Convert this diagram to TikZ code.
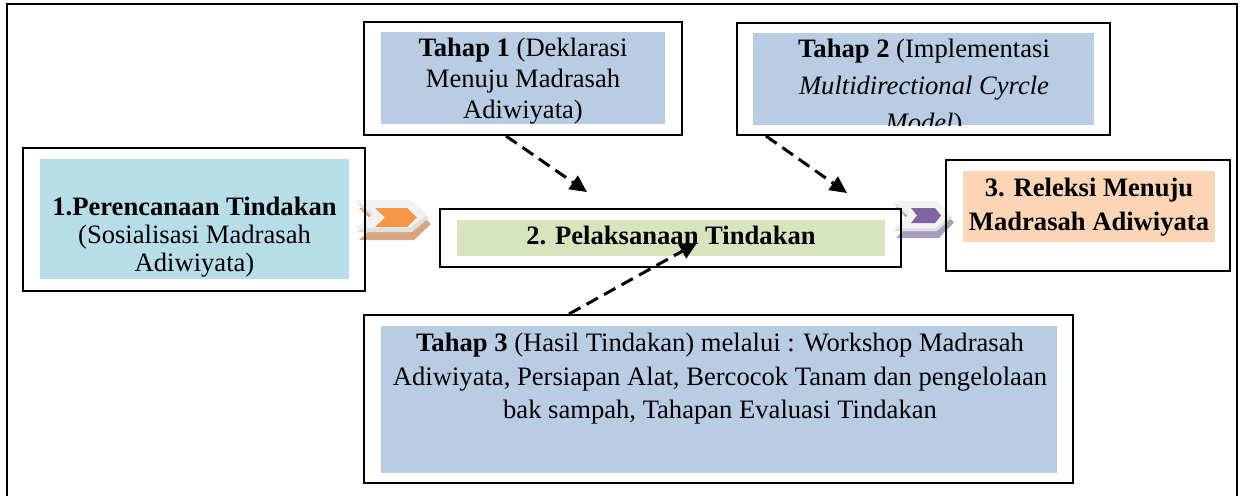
\documentclass[tikz,border=0pt]{standalone}
\usepackage{fontspec}
\setmainfont{Liberation Serif}
\usetikzlibrary{arrows.meta,calc,fit}
\definecolor{tahapblue}{HTML}{B8CCE4}
\definecolor{boxcyan}{HTML}{B7DDE8}
\definecolor{boxgreen}{HTML}{D7E4BD}
\definecolor{boxpeach}{HTML}{FBD5B5}
\definecolor{chevorange}{HTML}{F79646}
\definecolor{chevpurple}{HTML}{8064A2}
\definecolor{chevtan}{HTML}{D6A67C}
\definecolor{chevlav}{HTML}{A79EC0}
\definecolor{chevfront}{HTML}{F2F2F2}
\definecolor{chevmid}{HTML}{E0E0E0}
\newcommand{\mychev}[6]{%
  \fill[#6] (#1,#2) -- ({#1+#3-#5},#2) -- ({#1+#3},{#2+#4/2}) -- ({#1+#3-#5},{#2+#4}) -- (#1,{#2+#4}) -- ({#1+#5},{#2+#4/2}) -- cycle;}
\tikzset{
  boxline/.style={draw=black, line width=1pt, inner sep=0pt},
  fillbox/.style={inner sep=0pt, draw=none},
  txt/.style={align=center, inner sep=0pt},
  dasharrow/.style={line width=1.5pt, dash pattern=on 6.5pt off 3.5pt, -{Triangle[length=8.5pt,width=8pt]}},
}
\begin{document}
\begin{tikzpicture}[x=0.5pt,y=-0.5pt]
\useasboundingbox (0,0) rectangle (1240,495);
% fills
\node[fillbox, fill=tahapblue, fit={(381,32)(665,124)}] (t1fill) {};
\node[fillbox, fill=tahapblue, fit={(753,33)(1094,125)}] (t2fill) {};
\node[fillbox, fill=boxcyan, fit={(40,159)(349,279)}] (b1fill) {};
\node[fillbox, fill=boxgreen, fit={(457,220)(885,256)}] (b2fill) {};
\node[fillbox, fill=boxpeach, fit={(963,171)(1215,242)}] (b3fill) {};
\node[fillbox, fill=tahapblue, fit={(381,326)(1057,473)}] (t3fill) {};
% texts
\node[txt, font=\fontsize{13.3}{15.5}\selectfont] (t1txt) at (523,81) {\textbf{Tahap 1} (Deklarasi\\Menuju Madrasah\\Adiwiyata)};
\begin{scope}
\clip (753,33) rectangle (1094,125);
\node[txt, font=\fontsize{13.3}{18.5}\selectfont] (t2txt) at (924,88) {\textbf{Tahap 2} (Implementasi\\\textit{Multidirectional Cyrcle}\\\textit{Model})};
\end{scope}
\node[txt, font=\fontsize{13.3}{14}\selectfont] (b1txt) at (194.5,237) {\textbf{1.Perencanaan Tindakan}\\(Sosialisasi Madrasah\\Adiwiyata)};
\node[txt, anchor=base, font=\fontsize{13.3}{15}\selectfont\bfseries] (b2txt) at (671,244) {2. Pelaksanaan Tindakan};
\node[txt, font=\fontsize{13.3}{17}\selectfont\bfseries] (b3txt) at (1089,207.5) {3. Releksi Menuju\\Madrasah Adiwiyata};
\node[txt, font=\fontsize{13.3}{16.75}\selectfont] (t3txt) at (720,379) {\textbf{Tahap 3} (Hasil Tindakan) melalui : Workshop Madrasah\\Adiwiyata, Persiapan Alat, Bercocok Tanam dan pengelolaan\\bak sampah, Tahapan Evaluasi Tindakan};
% chevrons
\mychev{359}{208}{72}{32}{17}{chevtan}
\mychev{357}{204}{72}{28}{17}{chevmid}
\mychev{355}{200}{73}{28}{18}{chevfront}
\mychev{375}{208}{42}{19}{10}{chevorange}
\mychev{896}{207}{58}{31}{15}{chevlav}
\mychev{894}{204}{58}{27}{15}{chevmid}
\mychev{893}{201}{59}{27}{16}{chevfront}
\mychev{911}{208}{30}{15}{6}{chevpurple}
% borders
\node[boxline, fit={(7,4)(1237,520)}] (frame) {};
\node[boxline, fit={(364,22)(682,135)}] (t1box) {};
\node[boxline, fit={(737,23)(1110,135)}] (t2box) {};
\node[boxline, fit={(23,148)(365,291)}] (b1box) {};
\node[boxline, fit={(440,209)(901,267)}] (b2box) {};
\node[boxline, fit={(946,160)(1230,271)}] (b3box) {};
\node[boxline, fit={(364,315)(1073,483)}] (t3box) {};
% arrows
\coordinate (a1end) at (587,192);
\coordinate (a2end) at (847,193);
\coordinate (a3end) at (697,243);
\draw[dasharrow] ($(t1box.south west)+(143,0)$) -- (a1end);
\draw[dasharrow] ($(t2box.south west)+(30,0)$) -- (a2end);
\draw[dasharrow] ($(t3box.north west)+(206,0)$) -- (a3end);
\end{tikzpicture}
\end{document}
